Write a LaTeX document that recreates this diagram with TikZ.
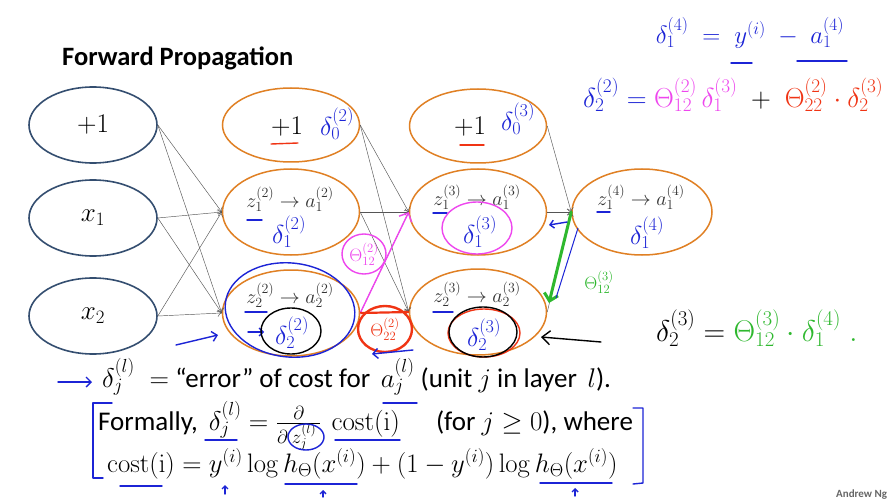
\RequirePackage{fix-cm}
\documentclass[tikz,border=0pt]{standalone}
\usepackage[no-math]{fontspec}
\setmainfont{Carlito}
\usetikzlibrary{shapes.geometric,arrows.meta}

\definecolor{inputblue}{RGB}{52,78,112}
\definecolor{unitorange}{RGB}{224,128,36}
\definecolor{wiregray}{RGB}{85,85,85}
\definecolor{penblue}{RGB}{28,36,214}
\definecolor{penpink}{RGB}{238,70,238}
\definecolor{penred}{RGB}{240,52,20}
\definecolor{pengreen}{RGB}{46,184,46}

\begin{document}
\begin{tikzpicture}[
  x=1pt, y=-1pt,
  inunit/.style = {ellipse, draw=inputblue, line width=1.6pt, minimum width=128pt,
                   minimum height=76pt, inner sep=0pt, font=\fontsize{27}{27}\selectfont},
  unit/.style = {ellipse, draw=unitorange, line width=1.5pt, minimum width=137pt,
                 minimum height=86pt, inner sep=0pt},
  biasunit/.style = {unit, minimum height=74pt},
  wire/.style = {-{To[length=4pt,width=7pt]}, draw=wiregray, line width=0.45pt},
  zlabel/.style = {text=black!80, font=\fontsize{20}{20}\selectfont, inner sep=0pt},
  pen/.style = {line width=1.4pt, line cap=round, line join=round},
  hand/.style = {inner sep=0pt, font=\fontsize{26}{26}\selectfont},
  body/.style = {anchor=base west, inner sep=0pt, font=\fontsize{27}{27}\selectfont}
]
  \fill[white] (0,0) rectangle (889,500);
  \useasboundingbox (0,0) rectangle (889,500);

  \node[anchor=base west, inner sep=0pt, font=\fontsize{26.5}{26.5}\selectfont\bfseries]
    (title) at (62,66) {Forward Propagation};

  % layers
  \node[inunit] (x0) at (93,125) {$+1$};
  \node[inunit] (x1) at (93,218) {$x_1$};
  \node[inunit] (x2) at (93,316) {$x_2$};

  \node[biasunit] (a20) at (291,125) {};
  \node[unit] (a21) at (291,212) {};
  \node[unit] (a22) at (291,313) {};

  \node[biasunit] (a30) at (478,126) {};
  \node[unit] (a31) at (478,212) {};
  \node[unit] (a32) at (478,312) {};

  \node[unit, minimum width=140pt] (a41) at (642,212) {};

  \draw[wire] (x0.east) -- (a21.west);
  \draw[wire] (x0.east) -- (a22.west);
  \draw[wire] (x1.east) -- (a21.west);
  \draw[wire] (x1.east) -- (a22.west);
  \draw[wire] (x2.east) -- (a21.west);
  \draw[wire] (x2.east) -- (a22.west);
  \draw[wire] (a20.east) -- (a31.west);
  \draw[wire] (a20.east) -- (a32.west);
  \draw[wire] (a21.east) -- (a31.west);
  \draw[wire] (a21.east) -- (a32.west);
  \draw[wire] (a22.east) -- (a31.west);
  \draw[wire] (a22.east) -- (a32.west);
  \draw[wire] (a30.east) -- (a41.west);
  \draw[wire] (a31.east) -- (a41.west);
  \draw[wire] (a32.east) -- (a41.west);

  % unit texts
  \node[inner sep=0pt, font=\fontsize{27}{27}\selectfont] (b2) at (287,127) {$+1$};
  \node[inner sep=0pt, font=\fontsize{27}{27}\selectfont] (b3) at (470,127) {$+1$};
  \node[zlabel] (z21) at (290,199) {$z_1^{(2)}\to a_1^{(2)}$};
  \node[zlabel] (z22) at (290,295) {$z_2^{(2)}\to a_2^{(2)}$};
  \node[zlabel] (z31) at (477,197) {$z_1^{(3)}\to a_1^{(3)}$};
  \node[zlabel] (z32) at (477,294) {$z_2^{(3)}\to a_2^{(3)}$};
  \node[zlabel] (z41) at (641,197) {$z_1^{(4)}\to a_1^{(4)}$};

  % pen: deltas in the units
  \node[hand, text=penblue] (d20) at (337,124) {$\delta_0^{(2)}$};
  \node[hand, text=penblue] (d21) at (289,232) {$\delta_1^{(2)}$};
  \node[hand, text=penblue] (d22) at (292,333) {$\delta_2^{(2)}$};
  \node[hand, text=penblue] (d30) at (518,119) {$\delta_0^{(3)}$};
  \node[hand, text=penblue] (d31) at (480,232) {$\delta_1^{(3)}$};
  \node[hand, text=penblue] (d32) at (484,335) {$\delta_2^{(3)}$};
  \node[hand, text=penblue] (d41) at (647,233) {$\delta_1^{(4)}$};

  \draw[pen, penred] (271,144) -- (298,143);
  \draw[pen, penred] (460,145) -- (484,145);
  \draw[pen, penblue] (247,220) -- (262,220);
  \draw[pen, penblue] (245,312) -- (267,312);
  \draw[pen, penblue] (433,213) -- (447,213);
  \draw[pen, penblue] (433,312) -- (453,312);
  \draw[pen, penblue] (597,212) -- (610,212);
  \draw[pen, penblue, -{Straight Barb[length=4pt]}] (248,332) -- (264,332);

  \draw[pen, penblue, rotate around={-6:(290,310)}] (290,310) ellipse (65pt and 47pt);
  \draw[pen, black] ([xshift=-1pt,yshift=2pt]d22.center) ellipse (30pt and 23pt);
  \draw[pen, penpink] ([xshift=-3pt,yshift=4pt]d31.center) ellipse (35pt and 26pt);
  \draw[pen, penred] ([yshift=2pt]d32.center) ellipse (36pt and 24pt);
  \draw[pen, black] ([xshift=-1pt,yshift=3pt]d32.center) ellipse (34pt and 25pt);

  % pen: weights between the layers
  \node[hand, text=penpink, font=\fontsize{18}{18}\selectfont] (t12) at (364,254) {$\Theta_{12}^{(2)}$};
  \draw[pen, penpink] (t12) ellipse (22pt and 20pt);
  \draw[pen, penpink, -{Straight Barb[length=7pt]}] (a22.east) -- (a31.west);
  \draw[penred, line width=2.2pt] (a22.east) -- (a32.west);
  \node[hand, text=penred, font=\fontsize{18}{18}\selectfont] (t22) at (385,329) {$\Theta_{22}^{(2)}$};
  \draw[penred, line width=2.4pt] (t22) ellipse (27pt and 23pt);
  \draw[pen, penblue, -{Straight Barb[length=5pt]}] (413,350) -- (372,354);

  \draw[pengreen, line width=3pt, line cap=round, -{Straight Barb[length=7pt]}] (a41.west) -- (549,303);
  \draw[penblue, line width=1pt] (578,228) -- (556,298);
  \node[hand, text=pengreen, font=\fontsize{18}{18}\selectfont] (t3) at (599,282) {$\Theta_{12}^{(3)}$};
  \draw[pen, penblue, -{Straight Barb[length=4pt]}] (567,222) -- (549,225);
  \draw[line width=1.4pt, line cap=round, -{Straight Barb[length=8pt,width=14pt]}] (601,342) -- (541,337);
  \draw[pen, penblue, -{Straight Barb[length=5pt]}] (176,345) -- (218,335);

  % pen: equations on the right
  \node[hand, text=penblue, font=\fontsize{25}{25}\selectfont] (e1) at (750,33)
    {$\delta_1^{(4)} \;=\; y^{(i)} \;-\; a_1^{(4)}$};
  \draw[pen, penblue] (731,63) -- (752,63);
  \draw[pen, penblue] (797,61) -- (847,61);

  \node[hand, font=\fontsize{27.5}{27.5}\selectfont, anchor=west] (e2) at (583,95)
    {$\color{penblue}\delta_2^{(2)} =
      \color{penpink}\Theta_{12}^{(2)}\,\delta_1^{(3)} \color{black}\; + \;
      \color{penred}\Theta_{22}^{(2)}\cdot\delta_2^{(3)}$};

  \node[hand, font=\fontsize{30}{30}\selectfont, anchor=west] (e3) at (656,328)
    {$\delta_2^{(3)} =
      \color{pengreen}\Theta_{12}^{(3)}\cdot\delta_1^{(4)}\;.$};

  % text below
  \draw[pen, penblue, -{Straight Barb[length=5pt]}] (58,382) -- (92,382);
  \node[body] (l1) at (102,387)
    {$\delta_j^{(l)}\;=$\ “error” of cost for $\,a_j^{(l)}$ (unit $j$ in layer $\,l$).};
  \node[body] (l2) at (98,430)
    {Formally,\hspace{5pt} $\delta_j^{(l)} = \frac{\partial}{\partial\hspace{4pt}z_j^{(l)}\hspace{4pt}}
     \hspace{10pt}\mathrm{cost(i)}$\hspace{36pt}(for $j\geq 0$), where};
  \node[body, font=\fontsize{26.7}{26.7}\selectfont] (l3) at (107,472)
    {$\mathrm{cost(i)} = y^{(i)}\log h_\Theta(x^{(i)}) + (1-y^{(i)})\log h_\Theta(x^{(i)})$};

  \draw[pen, penblue] (383,403) -- (417,403);
  \draw[pen, penblue] (205,440) -- (237,440);
  \draw[pen, penblue] (335,440) -- (400,440);
  \draw[pen, penblue] (306,437) ellipse (18pt and 13pt);
  \draw[pen, penblue] (120,486) -- (162,486);
  \draw[pen, penblue] (285,484) -- (357,484);
  \draw[pen, penblue] (540,483) -- (612,483);
  \draw[pen, penblue, -{Straight Barb[length=3pt]}] (225,494) -- (225,485);
  \draw[pen, penblue, -{Straight Barb[length=3pt]}] (323,497) -- (323,490);
  \draw[pen, penblue, -{Straight Barb[length=3pt]}] (575,496) -- (575,488);
  \draw[pen, penblue] (112,403) -- (93,403) -- (93,478) -- (103,478);
  \draw[pen, penblue] (633,408) -- (643,408) -- (643,483) -- (633,484);

  \node[anchor=base west, inner sep=0pt, text=black!60, font=\fontsize{11}{11}\selectfont\bfseries]
    (credit) at (836,497) {Andrew Ng};
\end{tikzpicture}
\end{document}
